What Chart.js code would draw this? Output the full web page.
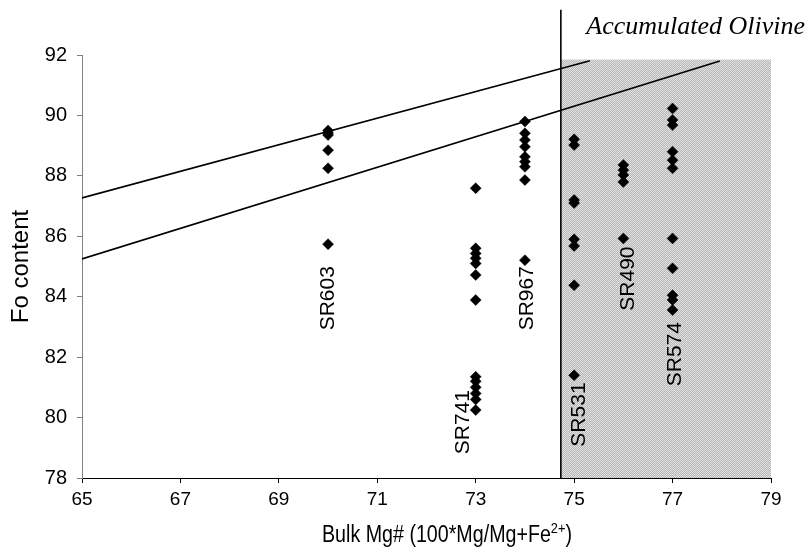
<!DOCTYPE html>
<html><head><meta charset="utf-8">
<script src="https://cdn.jsdelivr.net/npm/chart.js@4"></script>
<style>html,body{margin:0;padding:0;background:#fff}#wrap{width:808px;height:555px}</style>
</head><body><div id="wrap"><canvas id="c" width="808" height="555"></canvas></div>
<script>
// ---- data ----
const xTicks = [65, 67, 69, 71, 73, 75, 77, 79];
const yTicks = [78, 80, 82, 84, 86, 88, 90, 92];
const sampleNames = ['SR603', 'SR741', 'SR967', 'SR531', 'SR490', 'SR574'];
const sampleMg = [70, 73, 74, 75, 76, 77];
const foSR603 = [89.5, 89.42, 89.35, 88.85, 88.25, 85.74];
const foSR741 = [87.59, 85.6, 85.43, 85.27, 85.1, 84.72, 83.89, 81.35, 81.2, 81.0, 80.8, 80.6, 80.25];
const foSR967 = [89.8, 89.41, 89.19, 88.96, 88.63, 88.47, 88.3, 87.86, 85.21];
const foSR531 = [89.21, 89.02, 87.2, 87.1, 85.9, 85.68, 84.38, 81.4];
const foSR490 = [88.36, 88.19, 88.03, 87.8, 85.93];
const foSR574 = [90.23, 89.85, 89.68, 88.8, 88.52, 88.25, 85.93, 84.94, 84.05, 83.89, 83.56];
const trendUpperX = [65, 75.32], trendUpperY = [87.27, 91.81];
const trendLowerX = [65, 77.96], trendLowerY = [85.25, 91.8];
const accumMgFrom = 74.73, accumMgTo = 79, accumFoTop = 91.85, accumLineTop = 93.5;
const labelMg = [70.0, 72.75, 74.05, 75.11, 76.09, 77.06];
const labelFo = [83.95, 79.85, 83.95, 80.1, 84.6, 82.1];
const accumText = 'Accumulated Olivine';
const xTitleMain = 'Bulk Mg# (100*Mg/Mg+Fe', xTitleSup = '2+', xTitleEnd = ')';
const yTitle = 'Fo content';

const foBySample = [foSR603, foSR741, foSR967, foSR531, foSR490, foSR574];
const SANS = '"Liberation Sans", Arial, sans-serif';

const datasets = [];
foBySample.forEach((arr, i) => {
  datasets.push({
    type: 'scatter',
    label: sampleNames[i],
    data: arr.map(v => ({x: sampleMg[i], y: v})),
    pointStyle: 'rectRot',
    pointRadius: 5.5,
    pointBorderWidth: 0.5,
    backgroundColor: '#000',
    borderColor: '#000',
    order: 1
  });
});
[[trendUpperX, trendUpperY], [trendLowerX, trendLowerY]].forEach(([xs, ys], k) => {
  datasets.push({
    type: 'line',
    label: 'trend' + k,
    data: xs.map((x, j) => ({x, y: ys[j]})),
    borderColor: '#000',
    borderWidth: 1.6,
    pointRadius: 0,
    fill: false,
    order: 2
  });
});

function makePattern(ctx) {
  const p = document.createElement('canvas');
  p.width = 2; p.height = 2;
  const pc = p.getContext('2d');
  pc.fillStyle = '#b6b6b6'; pc.fillRect(0, 0, 2, 2);
  pc.fillStyle = '#e2e2e2'; pc.fillRect(0, 0, 1, 1); pc.fillRect(1, 1, 1, 1);
  return ctx.createPattern(p, 'repeat');
}

const decor = {
  id: 'decor',
  beforeDatasetsDraw(chart) {
    const {ctx, scales: {x, y}} = chart;
    const x0 = x.getPixelForValue(accumMgFrom), x1 = x.getPixelForValue(accumMgTo);
    const y0 = y.getPixelForValue(accumFoTop), y1 = y.getPixelForValue(78);
    ctx.save();
    ctx.fillStyle = makePattern(ctx);
    ctx.fillRect(x0, y0, x1 - x0, y1 - y0);
    ctx.strokeStyle = '#000';
    ctx.lineWidth = 1.6;
    ctx.beginPath();
    ctx.moveTo(x0, y.getPixelForValue(accumLineTop));
    ctx.lineTo(x0, y1);
    ctx.stroke();
    ctx.restore();
  },
  afterDatasetsDraw(chart) {
    const {ctx, scales: {x, y}} = chart;
    ctx.save();
    ctx.fillStyle = '#000';
    ctx.font = '21px ' + SANS;
    ctx.textAlign = 'center';
    ctx.textBaseline = 'middle';
    sampleNames.forEach((n, i) => {
      ctx.save();
      ctx.translate(x.getPixelForValue(labelMg[i]), y.getPixelForValue(labelFo[i]));
      ctx.rotate(-Math.PI / 2);
      ctx.fillText(n, 0, 0);
      ctx.restore();
    });
    ctx.font = 'italic 26px "Liberation Serif", "Times New Roman", serif';
    ctx.textAlign = 'right';
    ctx.textBaseline = 'alphabetic';
    ctx.fillText(accumText, chart.width - 3, y.getPixelForValue(accumLineTop) + 24);

    // x axis title with superscript (slightly condensed like the reference)
    const mainFont = '23px ' + SANS, supFont = '15px ' + SANS;
    ctx.font = mainFont; const w1 = ctx.measureText(xTitleMain).width, w3 = ctx.measureText(xTitleEnd).width;
    ctx.font = supFont; const w2 = ctx.measureText(xTitleSup).width;
    const total = w1 + w2 + w3;
    const targetW = 250, cx = 447, base = 542;
    const k = targetW / total;
    ctx.translate(cx, base);
    ctx.scale(k, 1);
    let sx = -total / 2;
    ctx.textAlign = 'left';
    ctx.font = mainFont; ctx.fillText(xTitleMain, sx, 0); sx += w1;
    ctx.font = supFont; ctx.fillText(xTitleSup, sx, -9); sx += w2;
    ctx.font = mainFont; ctx.fillText(xTitleEnd, sx, 0);
    ctx.restore();
  }
};

new Chart(document.getElementById('c'), {
  data: {datasets},
  options: {
    responsive: false,
    devicePixelRatio: 1,
    animation: false,
    layout: {padding: {top: 55, right: 37, left: 0, bottom: 0}},
    plugins: {legend: {display: false}, tooltip: {enabled: false}},
    scales: {
      x: {
        type: 'linear', min: 65, max: 79,
        afterBuildTicks: s => { s.ticks = xTicks.map(v => ({value: v})); },
        afterFit: s => { s.height = 77; },
        ticks: {color: '#000', font: {size: 19, family: SANS}, padding: 5, maxRotation: 0},
        grid: {drawOnChartArea: false, tickLength: 5, color: '#000', lineWidth: 1},
        border: {display: true, color: '#000', width: 1},
        title: {display: false}
      },
      y: {
        type: 'linear', min: 78, max: 92,
        afterBuildTicks: s => { s.ticks = yTicks.map(v => ({value: v})); },
        afterFit: s => { s.width = 82; },
        ticks: {color: '#000', font: {size: 20, family: SANS}, padding: 10},
        grid: {drawOnChartArea: false, tickLength: 5, color: '#808080', lineWidth: 1},
        border: {display: true, color: '#808080', width: 1},
        title: {display: true, text: yTitle, color: '#000',
                font: {size: 24, family: SANS}, padding: {top: 7, bottom: 0}}
      }
    }
  },
  plugins: [decor]
});
</script>
</body></html>
